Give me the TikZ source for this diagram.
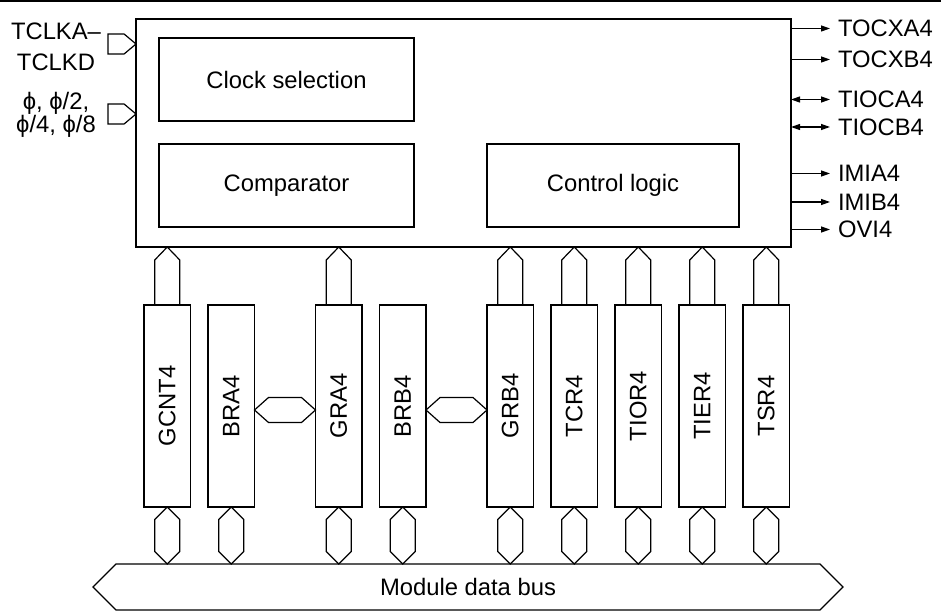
\documentclass[tikz,border=0pt]{standalone}
\usepackage{fontspec}
\setmainfont{Liberation Sans}
\usetikzlibrary{arrows.meta, positioning, shapes.symbols}

\begin{document}
\begin{tikzpicture}[
		x=1pt, y=-1pt,
		font=\fontsize{23.8}{31}\selectfont,
		line width=1.2pt,
		node distance=17.5pt,
		% Define styles
		block/.style={rectangle, draw=black, minimum width=255pt, minimum height=83pt, inner sep=0pt, outer sep=0pt},
		register/.style={rectangle, draw=black, minimum width=46.5pt, minimum height=202pt, inner sep=0pt, outer sep=0pt},
		inport/.style={signal, signal to=east, signal pointer angle=80, draw=black, minimum width=28pt, minimum height=20pt, inner sep=0pt, outer sep=0pt},
		inlabel/.style={align=center, inner sep=0pt},
		outlabel/.style={anchor=west, inner xsep=8pt, inner ysep=0pt, outer sep=0pt},
		arrow/.style={-{Triangle[length=9pt, width=6pt]}},
		biarrow/.style={{Triangle[length=9pt, width=6pt]}-{Triangle[length=9pt, width=6pt]}},
		upbus/.style={to path={(\tikztostart.north) ++(-12.5,0) -- ++(0,-45) -- (\tikztostart.north |- \tikztotarget.south) -- ++(12.5,13) -- ++(0,45)}},
		lowbus/.style={to path={(\tikztostart.south) -- ++(12.5,12.5) -- ++(0,32) -- (\tikztostart.south |- \tikztotarget.north) -- ++(-12.5,-12.5) -- ++(0,-32) -- cycle}},
		sidebus/.style={to path={([yshift=-4pt]\tikztostart.east) -- ++(14,-12.5) -- ++(33,0) -- ([yshift=-4pt]\tikztotarget.west) -- ++(-14,12.5) -- ++(-33,0) -- cycle}}
		]
		
		\useasboundingbox (0,0) rectangle (941,612);
		\draw [line width=1.5pt] (0,1) -- (941,1);
		
		% Timer block
		\node (main) [rectangle, draw=black, minimum width=655pt, minimum height=228pt, outer sep=0pt] at (463.5,133) {};
		\node (clock) [block] at (286.5,79.5) {Clock selection};
		\node (comp) [block, below=23pt of clock] {Comparator};
		\node (control) [block, minimum width=252pt, right=73pt of comp] {Control logic};
		
		% Clock inputs
		\node (tclkport) [inport, anchor=east] at (main.west |- 0,44) {};
		\node (phiport) [inport, anchor=east] at (main.west |- 0,114) {};
		\node (tclk) [inlabel] at (56,47) {TCLKA–\\TCLKD};
		\node (phi) [inlabel] at (56,115) {ϕ, ϕ/2,\\[-8pt]ϕ/4, ϕ/8};
		
		% Outputs
		\node (tocxa) [outlabel] at (830,28.5) {TOCXA4};
		\node (tocxb) [outlabel] at (830,59.5) {TOCXB4};
		\node (tioca) [outlabel] at (830,99.5) {TIOCA4};
		\node (tiocb) [outlabel] at (830,127) {TIOCB4};
		\node (imia) [outlabel] at (830,173.5) {IMIA4};
		\node (imib) [outlabel] at (830,202) {IMIB4};
		\node (ovi) [outlabel] at (830,229.5) {OVI4};
		
		\draw [arrow] (main.east |- tocxa.west) -- (tocxa.west);
		\draw [arrow] (main.east |- tocxb.west) -- (tocxb.west);
		\draw [biarrow] (main.east |- tioca.west) -- (tioca.west);
		\draw [biarrow] (main.east |- tiocb.west) -- (tiocb.west);
		\draw [arrow] (main.east |- imia.west) -- (imia.west);
		\draw [arrow] (main.east |- imib.west) -- (imib.west);
		\draw [arrow] (main.east |- ovi.west) -- (ovi.west);
		
		% Registers
		\node (gcnt) [register] at (167.25,406) {\rotatebox{90}{GCNT4}};
		\node (bra) [register, right=of gcnt] {\rotatebox{90}{BRA4}};
		\node (gra) [register, right=61pt of bra] {\rotatebox{90}{GRA4}};
		\node (brb) [register, right=of gra] {\rotatebox{90}{BRB4}};
		\node (grb) [register, right=61pt of brb] {\rotatebox{90}{GRB4}};
		\node (tcr) [register, right=of grb] {\rotatebox{90}{TCR4}};
		\node (tior) [register, right=of tcr] {\rotatebox{90}{TIOR4}};
		\node (tier) [register, right=of tior] {\rotatebox{90}{TIER4}};
		\node (tsr) [register, right=of tier] {\rotatebox{90}{TSR4}};
		
		% Module data bus
		\node (bus) [signal, signal to=west and east, draw=black, minimum width=750pt, minimum height=46pt, inner sep=0pt, outer sep=0pt] at (468,587) {Module data bus};
		
		% Internal buses
		\draw (gcnt) to[upbus] (main);
		\draw (gra) to[upbus] (main);
		\draw (grb) to[upbus] (main);
		\draw (tcr) to[upbus] (main);
		\draw (tior) to[upbus] (main);
		\draw (tier) to[upbus] (main);
		\draw (tsr) to[upbus] (main);
		
		\draw (bra) to[sidebus] (gra);
		\draw (brb) to[sidebus] (grb);
		
		\draw (gcnt) to[lowbus] (bus);
		\draw (bra) to[lowbus] (bus);
		\draw (gra) to[lowbus] (bus);
		\draw (brb) to[lowbus] (bus);
		\draw (grb) to[lowbus] (bus);
		\draw (tcr) to[lowbus] (bus);
		\draw (tior) to[lowbus] (bus);
		\draw (tier) to[lowbus] (bus);
		\draw (tsr) to[lowbus] (bus);
		
	\end{tikzpicture}
\end{document}
